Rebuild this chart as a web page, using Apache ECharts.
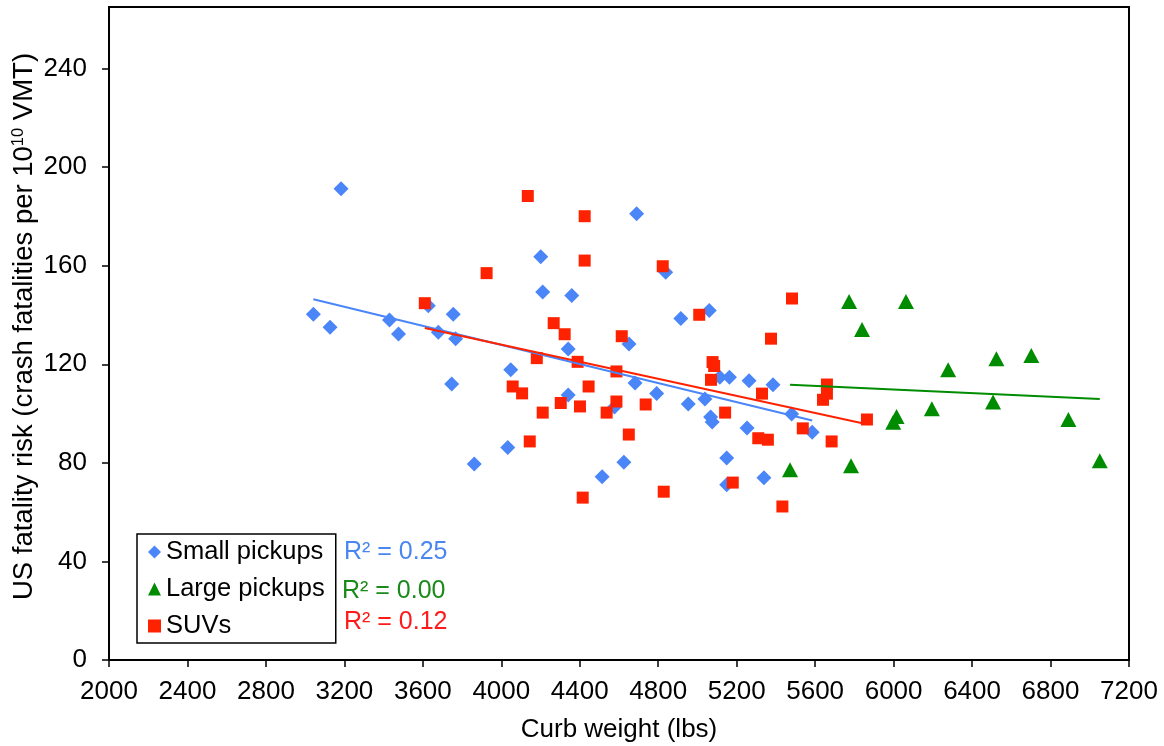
<!DOCTYPE html>
<html><head><meta charset="utf-8">
<script src="https://cdn.jsdelivr.net/npm/echarts@6/dist/echarts.min.js"></script>
<style>html,body{margin:0;padding:0;background:#fff}#c{width:1164px;height:746px}</style>
</head><body><div id="c"></div>
<script>
// ---- data ----
const seriesNames = ['Small pickups', 'Large pickups', 'SUVs'];
const r2Labels = ['R\u00b2 = 0.25', 'R\u00b2 = 0.00', 'R\u00b2 = 0.12'];
const xAxisTitle = 'Curb weight (lbs)';
const yAxisTitleMain = 'US fatality risk (crash fatalities per 10';
const yAxisTitleSup = '10';
const yAxisTitleEnd = ' VMT)';
const xTicks = [2000, 2400, 2800, 3200, 3600, 4000, 4400, 4800, 5200, 5600, 6000, 6400, 6800, 7200];
const yTicks = [0, 40, 80, 120, 160, 200, 240];

const smallWeight = [3183, 4690, 4201, 4838, 4211, 4359, 3042, 3127, 3430, 3476, 3628, 3755, 3679, 3767,
  4341, 4651, 4915, 4048, 4682, 4792, 3747, 4341, 4577, 4033, 3862, 4625, 4514, 5060, 4953, 5038,
  5067, 5075, 5114, 5163, 5263, 5385, 5480, 5585, 5253, 5149, 5149, 5339];
const smallRisk = [191.2, 181.1, 163.6, 157.4, 149.3, 147.9, 140.3, 135.0, 138.0, 132.3, 143.8, 140.3, 133.0, 130.4,
  126.2, 128.2, 138.6, 117.8, 112.4, 108.2, 112.0, 107.5, 102.7, 86.2, 79.5, 80.3, 74.4, 141.8, 103.9, 105.9,
  98.6, 96.6, 114.7, 114.7, 113.3, 111.7, 99.8, 92.4, 94.2, 82.0, 71.1, 74.0];

const largeWeight = [5773, 6063, 5839, 6278, 6524, 6702, 6195, 6507, 6015, 5998, 6891, 7051, 5472, 5783];
const largeRisk = [145.5, 145.5, 134.1, 117.8, 122.3, 123.6, 102.0, 104.7, 98.8, 96.5, 97.6, 80.9, 77.2, 78.8];

const suvWeight = [4135, 4425, 4425, 4823, 3925, 3610, 4267, 4323, 4614, 4181, 4389, 4587, 4058, 4106,
  4445, 4303, 4401, 4587, 4537, 4211, 4736, 4650, 4145, 4415, 4828, 5009, 5375, 5482, 5077, 5085,
  5069, 5141, 5329, 5310, 5359, 5180, 5433, 5537, 5660, 5660, 5640, 5684, 5864];
const suvRisk = [188.3, 180.1, 162.1, 159.8, 157.0, 144.8, 136.7, 132.2, 131.4, 122.5, 121.0, 117.1, 111.0, 108.2,
  111.0, 104.3, 102.9, 104.9, 100.4, 100.4, 103.7, 91.5, 88.7, 65.9, 68.3, 140.1, 130.4, 146.7, 120.9, 119.3,
  113.7, 100.4, 108.1, 90.0, 89.4, 72.0, 62.3, 94.0, 111.8, 108.1, 105.6, 88.7, 97.6];

// ---- helpers ----
function pairs(xs, ys) { return xs.map((x, i) => [x, ys[i]]); }
function linearFit(xs, ys) {
  const n = xs.length;
  const mx = xs.reduce((a, b) => a + b, 0) / n;
  const my = ys.reduce((a, b) => a + b, 0) / n;
  let sxy = 0, sxx = 0;
  for (let i = 0; i < n; i++) { sxy += (xs[i] - mx) * (ys[i] - my); sxx += (xs[i] - mx) * (xs[i] - mx); }
  const b = sxy / sxx, a = my - b * mx;
  const x0 = Math.min.apply(null, xs), x1 = Math.max.apply(null, xs);
  return [[x0, a + b * x0], [x1, a + b * x1]];
}

const FONT = 'Liberation Sans, Arial, Helvetica, sans-serif';
const BLUE = '#4A86F8', GREEN = '#008C00', RED = '#FF2200';

const chart = echarts.init(document.getElementById('c'), null, { renderer: 'canvas' });
chart.setOption({
  animation: false,
  backgroundColor: '#fff',
  textStyle: { fontFamily: FONT },
  grid: { left: 109, right: 35, top: 7, bottom: 86, show: true, borderColor: '#000', borderWidth: 2,
          backgroundColor: 'transparent', containLabel: false, outerBoundsMode: 'none' },
  xAxis: {
    type: 'value', min: xTicks[0], max: xTicks[xTicks.length - 1], interval: 400,
    name: xAxisTitle, nameLocation: 'middle', nameGap: 57, nameMoveOverlap: false,
    nameTextStyle: { fontSize: 26, color: '#000', fontFamily: FONT },
    axisLine: { show: true, lineStyle: { color: '#000', width: 2 } },
    axisTick: { show: true, length: 7, lineStyle: { color: '#000', width: 1.5 } },
    axisLabel: { fontSize: 26, color: '#000', margin: 19, fontFamily: FONT, formatter: v => String(v) },
    splitLine: { show: false }
  },
  yAxis: {
    type: 'value', min: 0, max: 265,
    name: '{m|' + yAxisTitleMain + '}{s|' + yAxisTitleSup + '}{m|' + yAxisTitleEnd + '}',
    nameLocation: 'middle', nameGap: 71, nameRotate: 90, nameMoveOverlap: false,
    nameTextStyle: {
      color: '#000', fontFamily: FONT, padding: [0, 0, 0, 14],
      rich: {
        m: { fontSize: 27.5, lineHeight: 28, fontFamily: FONT, color: '#000' },
        s: { fontSize: 16.5, lineHeight: 16, fontFamily: FONT, color: '#000', verticalAlign: 'top' }
      }
    },
    axisLine: { show: true, lineStyle: { color: '#000', width: 2 } },
    axisTick: { show: true, length: 7, lineStyle: { color: '#000', width: 1.5 }, customValues: yTicks },
    axisLabel: { fontSize: 26, color: '#000', margin: 22, fontFamily: FONT, customValues: yTicks, formatter: v => String(v) },
    splitLine: { show: false }
  },
  legend: {
    orient: 'vertical', left: 137, top: 534,
    data: seriesNames,
    borderColor: '#000', borderWidth: 1.5, backgroundColor: '#fff',
    padding: [5, 11, 4, 11], itemGap: 11, itemWidth: 13, itemHeight: 13, itemTextGap: 6,
    textStyle: { fontSize: 25.5, lineHeight: 25, color: '#000', fontFamily: FONT }
  },
  graphic: r2Labels.map((t, i) => ({
    type: 'text', x: [344, 342, 344][i], y: [552, 591, 622][i], z: 100,
    style: { text: t, fill: ['#4A86F0', '#1A8A1A', '#FF1A1A'][i], font: '25px ' + FONT, verticalAlign: 'middle', align: 'left' }
  })),
  series: [
    { name: seriesNames[0], type: 'scatter', symbol: 'diamond', symbolSize: 15, itemStyle: { color: BLUE, opacity: 1 }, data: pairs(smallWeight, smallRisk), z: 2 },
    { name: seriesNames[1], type: 'scatter', symbol: 'triangle', symbolSize: [16, 15], itemStyle: { color: GREEN, opacity: 1 }, data: pairs(largeWeight, largeRisk), z: 2 },
    { name: seriesNames[2], type: 'scatter', symbol: 'rect', symbolSize: 12, itemStyle: { color: RED, opacity: 1 }, data: pairs(suvWeight, suvRisk), z: 2 },
    { name: 'fit-small', type: 'line', data: linearFit(smallWeight, smallRisk), symbol: 'none', silent: true, lineStyle: { color: BLUE, width: 2 }, z: 3 },
    { name: 'fit-large', type: 'line', data: linearFit(largeWeight, largeRisk), symbol: 'none', silent: true, lineStyle: { color: GREEN, width: 2 }, z: 3 },
    { name: 'fit-suv', type: 'line', data: linearFit(suvWeight, suvRisk), symbol: 'none', silent: true, lineStyle: { color: RED, width: 2 }, z: 3 }
  ]
});
</script>
</body></html>
